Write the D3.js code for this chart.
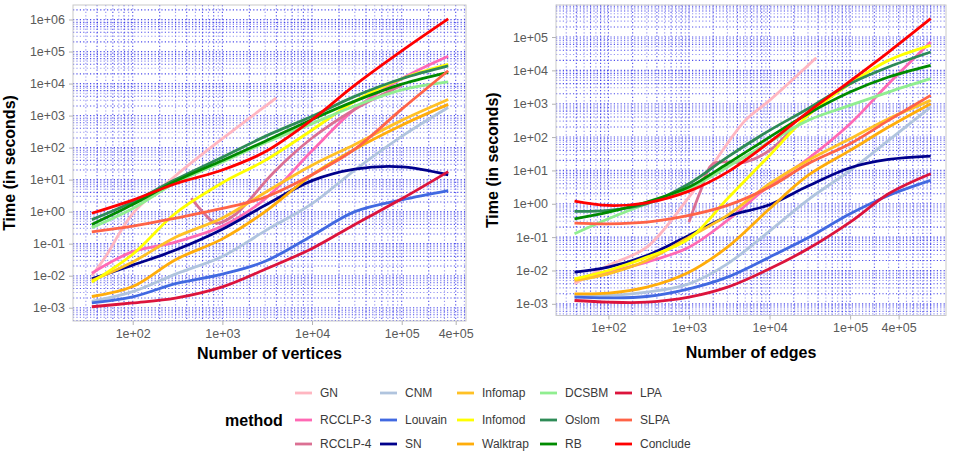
<!DOCTYPE html>
<html>
<head>
<meta charset="utf-8">
<script src="https://cdn.jsdelivr.net/npm/d3@7"></script>
<style>
  body { margin: 0; background: #fff; }
  svg { display: block; font-family: "Liberation Sans", Arial, Helvetica, sans-serif; }
</style>
</head>
<body>
<svg id="chart" width="953" height="455"></svg>
<script>
const methods = ['GN', 'RCCLP-3', 'RCCLP-4', 'CNM', 'Louvain', 'SN', 'Infomap', 'Infomod',
  'Walktrap', 'DCSBM', 'Oslom', 'RB', 'LPA', 'SLPA', 'Conclude'];
const methodColors = ['#ffb6c1', '#ff69b4', '#db7093', '#b0c4de', '#4169e1', '#00008b', '#ffc125',
  '#ffff00', '#ffad0a', '#90ee90', '#2e8b57', '#008b00', '#dc143c', '#ff6347', '#ff0000'];

const xTickValues = [1e2, 1e3, 1e4, 1e5, 4e5];
const xTickLabels = ['1e+02', '1e+03', '1e+04', '1e+05', '4e+05'];
const vertexYTicks = [1e-3, 1e-2, 1e-1, 1e0, 1e1, 1e2, 1e3, 1e4, 1e5, 1e6];
const vertexYLabels = ['1e-03', '1e-02', '1e-01', '1e+00', '1e+01', '1e+02', '1e+03', '1e+04', '1e+05', '1e+06'];
const edgeYTicks = [1e-3, 1e-2, 1e-1, 1e0, 1e1, 1e2, 1e3, 1e4, 1e5];
const edgeYLabels = ['1e-03', '1e-02', '1e-01', '1e+00', '1e+01', '1e+02', '1e+03', '1e+04', '1e+05'];

// time values are log10(seconds), one row per method (null = own x grid below)
const vertexSizes = [35, 100, 300, 1e3, 3e3, 1e4, 3e4, 1e5, 3.3e5];
const vertexLogTimes = [
  null,
  [-1.92, -1.25, -0.95, -0.45, 0.4, 1.9, 3.2, 4.15, 4.85],
  null,
  [-2.8, -2.5, -1.95, -1.4, -0.6, 0.25, 1.3, 2.35, 3.25],
  [-2.85, -2.66, -2.25, -1.95, -1.55, -0.75, 0.0, 0.37, 0.66],
  [-2.1, -1.67, -1.2, -0.55, 0.2, 0.97, 1.33, 1.4, 1.15],
  [-2.15, -1.57, -0.8, -0.2, 0.6, 1.45, 2.1, 2.85, 3.5],
  [-2.2, -1.33, -0.05, 0.9, 1.6, 2.55, 3.45, 4.15, 4.6],
  [-2.65, -2.34, -1.5, -0.85, 0.0, 1.15, 1.95, 2.7, 3.35],
  [-0.5, 0.1, 0.9, 1.55, 2.15, 2.75, 3.3, 3.8, 4.05],
  [-0.25, 0.3, 1.0, 1.7, 2.35, 2.98, 3.6, 4.15, 4.55],
  [-0.4, 0.22, 0.95, 1.6, 2.2, 2.88, 3.45, 3.98, 4.35],
  [-2.97, -2.85, -2.7, -2.35, -1.8, -1.15, -0.4, 0.4, 1.25],
  [-0.63, -0.45, -0.2, 0.1, 0.45, 1.15, 1.95, 3.2, 4.4],
  [-0.05, 0.36, 0.87, 1.3, 1.87, 2.87, 3.95, 5.02, 6.02]
];
const gnVertexSizes = [35, 50, 100, 300, 1e3, 3e3, 4e3];
const gnVertexLogTimes = [-2.0, -1.4, -0.06, 1.12, 2.28, 3.29, 3.55];
const rcclp4VertexSizes = [450, 600, 850, 1300, 1860, 3660, 1e4, 3e4, 1e5];
const rcclp4VertexLogTimes = [0.42, 0.0, -0.36, -0.15, 0.26, 1.2, 2.3, 3.2, 3.95];

const edgeCounts = [38, 100, 300, 1e3, 3e3, 1e4, 3e4, 1e5, 3e5, 1e6];
const edgeLogTimes = [
  null,
  [-2.3, -2.05, -1.75, -1.3, -0.5, 0.55, 1.35, 2.4, 3.6, 4.85],
  null,
  [-2.75, -2.75, -2.65, -2.4, -1.8, -0.82, 0.12, 1.0, 1.9, 2.9],
  [-2.8, -2.82, -2.78, -2.55, -2.2, -1.6, -1.02, -0.3, 0.25, 0.7],
  [-2.05, -1.9, -1.55, -0.95, -0.38, -0.03, 0.53, 1.08, 1.33, 1.43],
  [-2.3, -2.1, -1.7, -1.0, -0.35, 0.6, 1.3, 1.95, 2.55, 3.1],
  [-2.25, -2.0, -1.6, -1.05, 0.15, 1.45, 2.65, 3.6, 4.3, 4.75],
  [-2.7, -2.68, -2.5, -2.05, -1.3, -0.15, 0.85, 1.6, 2.3, 3.0],
  [-0.9, -0.45, 0.0, 0.45, 1.1, 1.85, 2.5, 2.95, 3.35, 3.75],
  [-0.23, -0.2, 0.0, 0.6, 1.4, 2.2, 2.85, 3.6, 4.1, 4.55],
  [-0.45, -0.25, 0.05, 0.5, 1.2, 2.0, 2.7, 3.35, 3.8, 4.15],
  [-2.9, -2.95, -2.95, -2.8, -2.5, -1.95, -1.35, -0.55, 0.3, 0.9],
  [-0.58, -0.6, -0.55, -0.35, -0.05, 0.5, 1.2, 1.8, 2.5, 3.25],
  [0.08, -0.05, 0.03, 0.38, 0.95, 1.85, 2.75, 3.68, 4.55, 5.55]
];
const gnEdgeCounts = [38, 100, 300, 1e3, 2e3, 5e3, 1e4, 3.8e4];
const gnEdgeLogTimes = [-2.4, -1.85, -1.3, 0.2, 1.2, 2.5, 3.1, 4.38];
const rcclp4EdgeCounts = [1e3, 1.4e3, 2e3, 5e3, 1e4, 2e4];
const rcclp4EdgeLogTimes = [-0.55, 0.4, 1.2, 1.25, 1.6, 2.3];

const svg = d3.select('#chart');

function buildSeries(xs, rows, gnXs, gnYs, r4Xs, r4Ys) {
  return methods.map((name, i) => {
    let px = xs, py = rows[i];
    if (name === 'GN') { px = gnXs; py = gnYs; }
    if (name === 'RCCLP-4') { px = r4Xs; py = r4Ys; }
    return { name, color: methodColors[i], pts: px.map((x, j) => [x, Math.pow(10, py[j])]) };
  });
}

function drawPanel(cfg) {
  const x = d3.scaleLog().domain(cfg.xDomain).range([cfg.left, cfg.right]);
  const y = d3.scaleLog().domain(cfg.yDomain).range([cfg.bottom, cfg.top]);
  const g = svg.append('g');

  g.append('rect')
    .attr('x', cfg.left).attr('y', cfg.top)
    .attr('width', cfg.right - cfg.left).attr('height', cfg.bottom - cfg.top)
    .attr('fill', '#fff');

  // dotted log grid
  const gridVals = (dom) => {
    const out = [];
    const lo = Math.floor(Math.log10(dom[0])), hi = Math.ceil(Math.log10(dom[1]));
    for (let d = lo; d <= hi; d++) {
      for (let k = 1; k <= 9; k++) {
        const v = k * Math.pow(10, d);
        if (v > dom[0] && v < dom[1]) out.push({ v, major: [1, 2, 4, 6, 8].includes(k) });
      }
    }
    return out;
  };
  const grid = g.append('g');
  grid.selectAll('line.gx').data(gridVals(cfg.xDomain)).join('line')
    .attr('x1', d => x(d.v)).attr('x2', d => x(d.v))
    .attr('y1', cfg.top).attr('y2', cfg.bottom)
    .attr('stroke', '#3030e8').attr('stroke-opacity', d => d.major ? 0.85 : 0.5)
    .attr('stroke-width', 1.1).attr('stroke-dasharray', '1.2 2.2');
  grid.selectAll('line.gy').data(gridVals(cfg.yDomain)).join('line')
    .attr('y1', d => y(d.v)).attr('y2', d => y(d.v))
    .attr('x1', cfg.left).attr('x2', cfg.right)
    .attr('stroke', '#3030e8').attr('stroke-opacity', d => d.major ? 0.85 : 0.5)
    .attr('stroke-width', 1.1).attr('stroke-dasharray', '1.2 2.2');

  const line = d3.line()
    .x(d => x(d[0])).y(d => y(d[1]))
    .curve(d3.curveCatmullRom.alpha(0.5));
  g.append('g').selectAll('path').data(cfg.series).join('path')
    .attr('d', d => line(d.pts))
    .attr('fill', 'none')
    .attr('stroke', d => d.color)
    .attr('stroke-width', 2.8);

  g.append('rect')
    .attr('x', cfg.left).attr('y', cfg.top)
    .attr('width', cfg.right - cfg.left).attr('height', cfg.bottom - cfg.top)
    .attr('fill', 'none').attr('stroke', '#c9c9c9').attr('stroke-width', 1);

  // x axis
  const xa = g.append('g').attr('transform', `translate(0,${cfg.bottom})`)
    .call(d3.axisBottom(x).tickValues(xTickValues)
      .tickFormat((d, i) => xTickLabels[i]).tickSize(4).tickPadding(4));
  // y axis
  const ya = g.append('g').attr('transform', `translate(${cfg.left},0)`)
    .call(d3.axisLeft(y).tickValues(cfg.yTicks)
      .tickFormat((d, i) => cfg.yLabels[i]).tickSize(4).tickPadding(4));
  [xa, ya].forEach(a => {
    a.select('.domain').remove();
    a.selectAll('.tick line').attr('stroke', '#b3b3b3');
    a.selectAll('.tick text').attr('fill', '#5a5a5a')
      .style('font-size', '12.5px').style('font-family', '"Liberation Sans", Arial, sans-serif');
  });

  g.append('text')
    .attr('x', (cfg.left + cfg.right) / 2).attr('y', cfg.xTitleY)
    .attr('text-anchor', 'middle')
    .style('font-size', '16px').style('font-weight', 'bold')
    .text(cfg.xTitle);
  g.append('text')
    .attr('transform', `translate(${cfg.yTitleX},${(cfg.top + cfg.bottom) / 2}) rotate(-90)`)
    .attr('text-anchor', 'middle')
    .style('font-size', '16px').style('font-weight', 'bold')
    .text('Time (in seconds)');
}

drawPanel({
  left: 73, right: 466, top: 5, bottom: 321,
  xDomain: [Math.pow(10, 1.334), Math.pow(10, 5.717)],
  yDomain: [Math.pow(10, -3.415), Math.pow(10, 6.453)],
  yTicks: vertexYTicks, yLabels: vertexYLabels,
  series: buildSeries(vertexSizes, vertexLogTimes, gnVertexSizes, gnVertexLogTimes,
    rcclp4VertexSizes, rcclp4VertexLogTimes),
  xTitle: 'Number of vertices', xTitleY: 359, yTitleX: 15
});

drawPanel({
  left: 556, right: 946, top: 5, bottom: 315.5,
  xDomain: [Math.pow(10, 1.35), Math.pow(10, 6.19)],
  yDomain: [Math.pow(10, -3.35), Math.pow(10, 5.96)],
  yTicks: edgeYTicks, yLabels: edgeYLabels,
  series: buildSeries(edgeCounts, edgeLogTimes, gnEdgeCounts, gnEdgeLogTimes,
    rcclp4EdgeCounts, rcclp4EdgeLogTimes),
  xTitle: 'Number of edges', xTitleY: 357.5, yTitleX: 498
});

// legend
const legendColX = [295, 380, 457, 540, 615];
const legendRowY = [393, 420, 444];
const legend = svg.append('g');
legend.append('text')
  .attr('x', 225).attr('y', 420).attr('dy', '0.35em')
  .style('font-size', '16px').style('font-weight', 'bold')
  .text('method');
const items = legend.selectAll('g.item').data(methods).join('g')
  .attr('transform', (d, i) => `translate(${legendColX[Math.floor(i / 3)]},${legendRowY[i % 3]})`);
items.append('line')
  .attr('x1', 0).attr('x2', 17)
  .attr('stroke', (d, i) => methodColors[i]).attr('stroke-width', 2.8);
items.append('text')
  .attr('x', 25).attr('dy', '0.35em')
  .attr('fill', '#3a3a3a')
  .style('font-size', '12px')
  .text(d => d);
</script>
</body>
</html>
